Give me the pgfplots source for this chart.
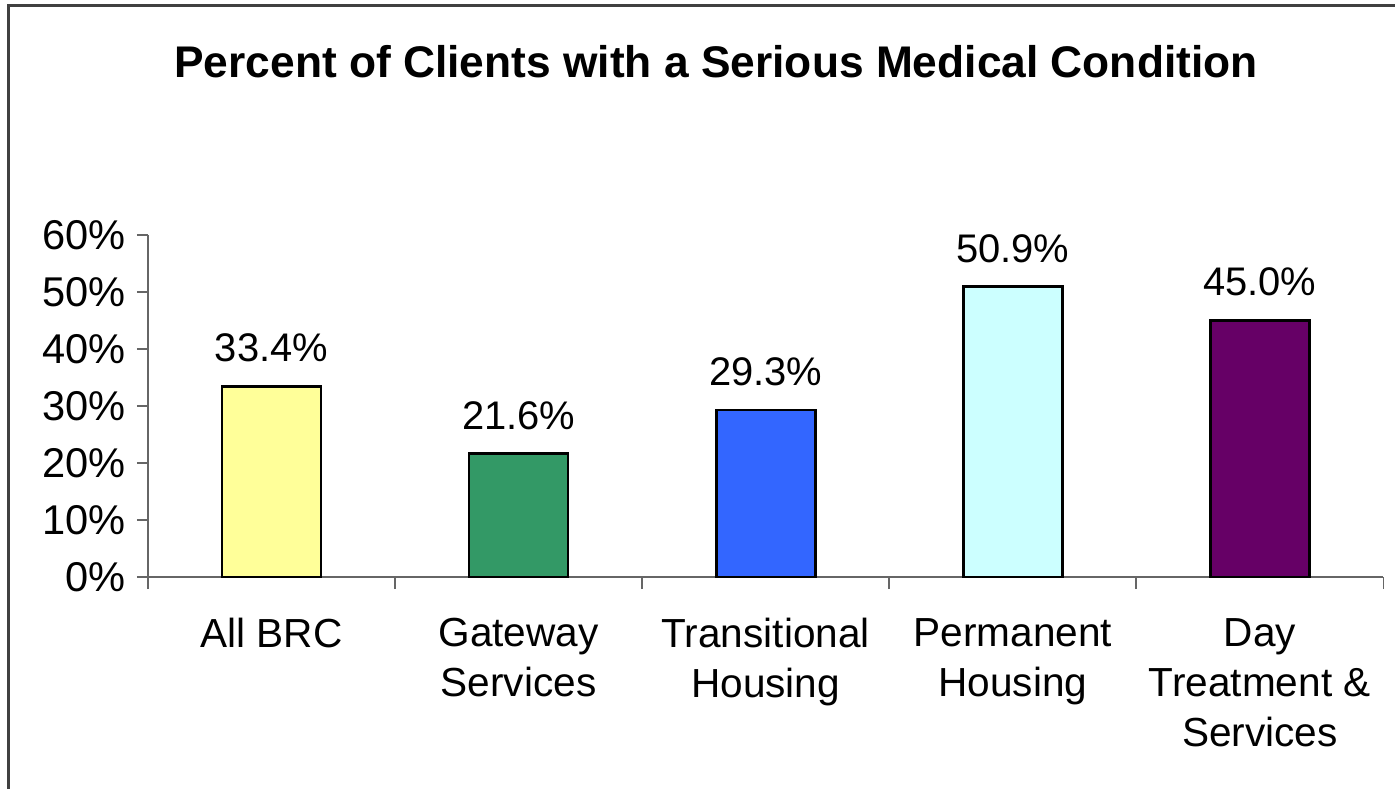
\documentclass[border=0pt]{standalone}
\usepackage{pgfplots}
\pgfplotsset{compat=1.18}
\usepackage{fontspec}
\setmainfont{Liberation Sans}
\definecolor{cyellow}{HTML}{FFFF99}
\definecolor{cgreen}{HTML}{339966}
\definecolor{cblue}{HTML}{3366FF}
\definecolor{ccyan}{HTML}{CCFFFF}
\definecolor{cpurple}{HTML}{660066}
\definecolor{frame}{HTML}{404040}
\begin{document}
\begin{tikzpicture}[x=0.010394cm,y=0.010394cm]
\path[use as bounding box] (0,0) rectangle (1395,789);
\draw[frame, line width=0.6pt] (8.5,0) -- (8.5,783.5) -- (1395,783.5);
\node[font=\fontsize{13.1}{16}\selectfont\bfseries] at (716,727) {Percent of Clients with a Serious Medical Condition};
\coordinate (A) at (148,212);
\begin{axis}[
  at={(A)}, anchor=south west,
  scale only axis,
  width=12.837cm, height=3.555cm,
  xmin=0.5, xmax=5.5, ymin=0, ymax=60,
  axis x line*=bottom, axis y line*=left,
  axis line style={draw=gray!80!black, line width=0.5pt},
  tick align=outside,
  major tick length=0.115cm,
  minor tick length=0.125cm,
  xtick={1,2,3,4,5},
  minor xtick={0.5,1.5,2.5,3.5,4.5,5.5},
  major x tick style={draw=none},
  tick style={draw=gray!80!black, line width=0.5pt},
  xticklabels={All BRC, Gateway\\Services, Transitional\\Housing, Permanent\\Housing, Day\\Treatment \&\\Services},
  xticklabel style={align=center, font=\fontsize{12}{14.8}\selectfont, yshift=-0.19cm},
  ytick={0,10,...,60},
  yticklabel={\pgfmathprintnumber{\tick}\%},
  yticklabel style={font=\fontsize{12.3}{14}\selectfont, xshift=0.01cm},
  /pgf/number format/assume math mode=true,
  ybar, bar width=1.029cm, bar shift=0pt,
  nodes near coords={\pgfmathprintnumber[fixed,fixed zerofill,precision=1]{\pgfplotspointmeta}\%},
  nodes near coords style={font=\fontsize{11.8}{14}\selectfont, anchor=south, yshift=0.12cm},
  clip=false,
]
\addplot[fill=cyellow, draw=black, line width=0.8pt] coordinates {(1,33.4)};
\addplot[fill=cgreen, draw=black, line width=0.8pt] coordinates {(2,21.6)};
\addplot[fill=cblue, draw=black, line width=0.8pt] coordinates {(3,29.3)};
\addplot[fill=ccyan, draw=black, line width=0.8pt] coordinates {(4,50.9)};
\addplot[fill=cpurple, draw=black, line width=0.8pt] coordinates {(5,45.0)};
\end{axis}
\end{tikzpicture}
\end{document}
